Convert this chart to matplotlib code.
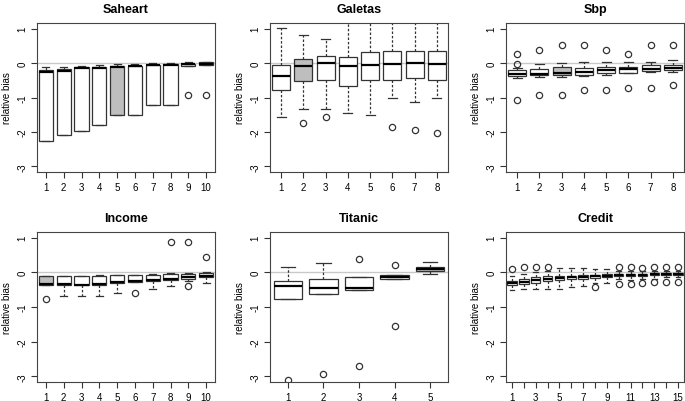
import matplotlib
matplotlib.use("Agg")
import matplotlib.pyplot as plt

plt.rcParams['font.family'] = ['Liberation Sans', 'DejaVu Sans']

# --- Saheart
saheart_q1 = [-2.25, -2.10, -1.96, -1.81, -1.52, -1.52, -1.21, -1.21, -0.08, -0.06]
saheart_med = [-0.25, -0.22, -0.15, -0.14, -0.12, -0.10, -0.07, -0.05, -0.04, -0.03]
saheart_q3 = [-0.19, -0.17, -0.12, -0.12, -0.10, -0.09, -0.05, -0.03, -0.02, 0.02]
saheart_lo = [-2.25, -2.10, -1.96, -1.81, -1.52, -1.52, -1.21, -1.21, -0.08, -0.06]
saheart_hi = [-0.12, -0.11, -0.08, -0.06, -0.03, -0.03, -0.01, 0.00, 0.02, 0.03]
saheart_out = [[], [], [], [], [], [], [], [], [-0.92], [-0.92]]

# --- Galetas
galetas_q1 = [-0.77, -0.52, -0.50, -0.67, -0.48, -0.48, -0.44, -0.48]
galetas_med = [-0.38, -0.10, 0.00, -0.09, -0.07, -0.04, 0.00, -0.04]
galetas_q3 = [-0.05, 0.11, 0.20, 0.17, 0.32, 0.34, 0.35, 0.34]
galetas_lo = [-1.57, -1.33, -1.33, -1.45, -1.52, -1.01, -1.14, -1.01]
galetas_hi = [1.02, 0.81, 0.71, 1.60, 1.60, 1.60, 1.60, 1.60]
galetas_out = [[], [-1.74], [-1.57], [], [], [-1.86], [-1.94], [-2.03]]

# --- Sbp
sbp_q1 = [-0.38, -0.36, -0.34, -0.34, -0.29, -0.28, -0.24, -0.21]
sbp_med = [-0.31, -0.32, -0.28, -0.26, -0.21, -0.18, -0.17, -0.14]
sbp_q3 = [-0.21, -0.17, -0.12, -0.14, -0.12, -0.12, -0.07, -0.05]
sbp_lo = [-0.43, -0.40, -0.41, -0.39, -0.34, -0.30, -0.27, -0.25]
sbp_hi = [-0.14, -0.02, 0.01, 0.03, 0.03, 0.03, 0.03, 0.10]
sbp_out = [[0.25, -0.02, -1.07], [0.39, -0.92], [0.53, -0.94], [0.53, -0.78],
           [0.39, -0.78], [0.25, -0.73], [0.53, -0.73], [0.53, -0.65]]

# --- Income
income_q1 = [-0.37, -0.37, -0.38, -0.36, -0.31, -0.28, -0.26, -0.22, -0.18, -0.15]
income_med = [-0.35, -0.35, -0.36, -0.33, -0.28, -0.25, -0.22, -0.18, -0.15, -0.10]
income_q3 = [-0.11, -0.11, -0.12, -0.10, -0.08, -0.08, -0.07, -0.06, -0.05, -0.03]
income_lo = [-0.37, -0.69, -0.69, -0.69, -0.59, -0.28, -0.49, -0.40, -0.25, -0.30]
income_hi = [-0.10, -0.10, -0.10, -0.09, -0.07, -0.08, -0.05, -0.03, -0.02, 0.00]
income_out = [[-0.78], [], [], [], [], [-0.59], [], [0.86], [0.86, -0.40], [0.43]]

# --- Titanic
titanic_q1 = [-0.77, -0.63, -0.51, -0.19, 0.04]
titanic_med = [-0.39, -0.46, -0.46, -0.15, 0.09]
titanic_q3 = [-0.25, -0.20, -0.15, -0.08, 0.16]
titanic_lo = [-0.77, -0.63, -0.51, -0.19, -0.06]
titanic_hi = [0.16, 0.28, -0.15, -0.08, 0.29]
titanic_out = [[-3.10], [-2.93], [0.38, -2.69], [0.21, -1.56], []]

# --- Credit
credit_q1 = [-0.37, -0.34, -0.30, -0.25, -0.23, -0.20, -0.18, -0.17, -0.13, -0.12,
             -0.11, -0.10, -0.09, -0.08, -0.07]
credit_med = [-0.31, -0.27, -0.21, -0.18, -0.17, -0.15, -0.14, -0.12, -0.10, -0.09,
              -0.08, -0.07, -0.06, -0.05, -0.04]
credit_q3 = [-0.25, -0.20, -0.15, -0.12, -0.11, -0.10, -0.08, -0.08, -0.06, -0.05,
             -0.05, -0.04, -0.03, -0.02, -0.01]
credit_lo = [-0.50, -0.47, -0.47, -0.47, -0.47, -0.43, -0.40, -0.30, -0.32, -0.20,
             -0.22, -0.20, -0.18, -0.15, -0.15]
credit_hi = [-0.10, -0.05, 0.00, 0.05, 0.13, 0.11, 0.11, 0.10, 0.10, 0.05,
             0.05, 0.04, 0.04, 0.05, 0.05]
credit_out = [[0.10], [0.15], [0.14], [0.16], [], [], [], [-0.41], [],
              [0.15, -0.33], [0.15, -0.33], [0.13, -0.30], [0.14, -0.29],
              [0.15, -0.27], [0.14, -0.27]]
credit_labels = ['1', '', '3', '', '5', '', '7', '', '9', '', '11', '', '13', '', '15']

W, H = 685, 402
fig = plt.figure(figsize=(W / 100, H / 100), dpi=100)

cols_x = [37, 270, 506]
rows_y = [(24, 173), (233, 383)]
pw = 178

panels = [
    ("Saheart", saheart_q1, saheart_med, saheart_q3, saheart_lo, saheart_hi, saheart_out, 4, None),
    ("Galetas", galetas_q1, galetas_med, galetas_q3, galetas_lo, galetas_hi, galetas_out, 1, None),
    ("Sbp", sbp_q1, sbp_med, sbp_q3, sbp_lo, sbp_hi, sbp_out, 2, None),
    ("Income", income_q1, income_med, income_q3, income_lo, income_hi, income_out, 0, None),
    ("Titanic", titanic_q1, titanic_med, titanic_q3, titanic_lo, titanic_hi, titanic_out, 4, None),
    ("Credit", credit_q1, credit_med, credit_q3, credit_lo, credit_hi, credit_out, None, credit_labels),
]

edge = '#333333'
for i, (title, q1, med, q3, lo, hi, out, grey, labels) in enumerate(panels):
    top, bot = rows_y[i // 3]
    left = cols_x[i % 3]
    ax = fig.add_axes([left / W, 1 - bot / H, pw / W, (bot - top) / H])
    n = len(q1)
    stats = [dict(q1=q1[k], med=med[k], q3=q3[k], whislo=lo[k], whishi=hi[k], fliers=out[k])
             for k in range(n)]
    ax.axhline(0, color='#c8c8c8', lw=1, zorder=0)
    bp = ax.bxp(stats, positions=range(1, n + 1), widths=0.8, patch_artist=True,
                boxprops=dict(facecolor='white', edgecolor=edge, lw=0.9),
                medianprops=dict(color='black', lw=1.6, solid_capstyle='butt'),
                whiskerprops=dict(color=edge, lw=0.9, linestyle=(0, (2, 1.5))),
                capprops=dict(color=edge, lw=0.9),
                flierprops=dict(marker='o', mfc='none', mec=edge, ms=4.5, mew=0.9),
                capwidths=0.4)
    if grey is not None:
        bp['boxes'][grey].set_facecolor('#bebebe')
    ax.set_xlim(0.5, n + 0.5)
    ax.set_ylim(-3.16, 1.16)
    ax.set_xticks(range(1, n + 1))
    ax.set_xticklabels(labels if labels else [str(k) for k in range(1, n + 1)], fontsize=7)
    ax.set_yticks([-3, -2, -1, 0, 1])
    ax.set_yticklabels(['-3', '-2', '-1', '0', '1'], fontsize=7, rotation=90, va='center')
    ax.tick_params(direction='out', length=4, width=0.8, color=edge, pad=3)
    for s in ax.spines.values():
        s.set_color('#444444')
        s.set_linewidth(0.8)
    ax.set_title(title, fontsize=9, fontweight='bold', pad=8)
    ax.set_ylabel("relative bias", fontsize=7)
    ax.yaxis.set_label_coords(-25 / pw, 0.5)

fig.savefig("out.png", dpi=100)
